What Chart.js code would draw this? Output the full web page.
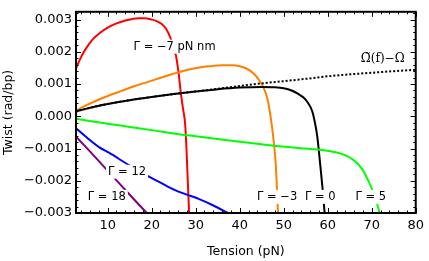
<!DOCTYPE html>
<html>
<head>
<meta charset="utf-8">
<script src="https://cdn.jsdelivr.net/npm/chart.js@4/dist/chart.umd.min.js"></script>
<style>
  body { margin: 0; background: #fff; }
  canvas { display: block; }
</style>
</head>
<body>
<canvas id="twist-chart" width="429" height="261"></canvas>
<script>
// tick values / labels
const xTicks = [10, 20, 30, 40, 50, 60, 70, 80];
const xTickLabels = ['10', '20', '30', '40', '50', '60', '70', '80'];
const yTicks = [-0.003, -0.002, -0.001, 0, 0.001, 0.002, 0.003];
const yTickLabels = ['\u22120.003', '\u22120.002', '\u22120.001', '0.000', '0.001', '0.002', '0.003'];

// Γ = -7 pN nm
const redTension = [2.8, 4, 5.2, 6.5, 8.2, 10, 12, 14, 15.7, 17, 18.4, 20, 21, 22.2, 23.2, 24.4, 25.1, 25.5, 26.1, 26.6, 27.1, 27.6, 27.9, 28.2, 28.5];
const redTwist = [0.00149, 0.00185, 0.00213, 0.00237, 0.00258, 0.00275, 0.00288, 0.00297, 0.00302, 0.00304, 0.00304, 0.003, 0.00296, 0.00287, 0.00273, 0.00238, 0.00204, 0.00189, 0.00135, 0.00075, 0.00025, -0.00024, -0.001, -0.002, -0.003];

// Γ = -3
const orangeTension = [2.8, 5, 7.5, 10, 13, 16, 19, 21.7, 24, 26.3, 28.5, 30.8, 33, 36, 38.4, 40, 41.4, 42.5, 43.5, 44.5, 45.3, 46, 46.5, 47, 47.5, 48.2, 48.7];
const orangeTwist = [0.00018, 0.00033, 0.00049, 0.00063, 0.00078, 0.00093, 0.00106, 0.00118, 0.00128, 0.00137, 0.00145, 0.00151, 0.00155, 0.00158, 0.00158, 0.00155, 0.00149, 0.0014, 0.00128, 0.0011, 0.00092, 0.00068, 0.00042, 0.0, -0.0005, -0.0015, -0.003];

// Γ = 0
const blackTension = [2.8, 5, 7.5, 10, 15, 20, 25, 30, 35, 40, 45, 48, 50, 51.8, 53.2, 54.5, 55.5, 56.5, 57.1, 57.6, 58.3, 58.8, 59.3];
const blackTwist = [0.00015, 0.00023, 0.00031, 0.00038, 0.0005, 0.0006, 0.00069, 0.00077, 0.00084, 0.00089, 0.00091, 0.0009, 0.00087, 0.0008, 0.0007, 0.00058, 0.00042, 0.00015, -0.0002, -0.0006, -0.0015, -0.0022, -0.003];

// Ω~(f) - Ω
const omegaTension = [2.8, 5, 10, 15, 20, 25, 30, 35, 40, 45, 50, 55, 60, 65, 70, 75, 80];
const omegaTwist = [0.00015, 0.00023, 0.00038, 0.0005, 0.0006, 0.00069, 0.00077, 0.00085, 0.00094, 0.00102, 0.00109, 0.00116, 0.00124, 0.0013, 0.00135, 0.0014, 0.00144];

// Γ = 5
const greenTension = [2.8, 10, 15, 20, 25.3, 30, 34, 40, 45, 49, 55, 60.3, 63, 65.6, 67.8, 69.3, 70.8, 71.8];
const greenTwist = [-0.00008, -0.00023, -0.00033, -0.00043, -0.00054, -0.00062, -0.00069, -0.00079, -0.00087, -0.00093, -0.001, -0.00108, -0.00116, -0.00133, -0.00163, -0.00202, -0.00252, -0.003];

// Γ = 12
const blueTension = [2.8, 5, 8.2, 10.3, 14.4, 18.6, 22, 25.3, 28, 30.8, 33.9, 37.3];
const blueTwist = [-0.00037, -0.00063, -0.00097, -0.00113, -0.00148, -0.00182, -0.00206, -0.00229, -0.00243, -0.00257, -0.00276, -0.003];

// Γ = 18
const purpleTension = [2.8, 5, 8, 11, 13.3, 16, 18.9];
const purpleTwist = [-0.00063, -0.00095, -0.00139, -0.00184, -0.00218, -0.00258, -0.003];

const curveLabels = [
    { text: '\u0393 = \u22127 pN nm', x: 25.2, y: 0.00216 },
    { text: '\u03A9\u0303(f)\u2212\u03A9', x: 72.5, y: 0.00178, serif: true },
    { text: '\u0393 = 12', x: 14.4, y: -0.00172 },
    { text: '\u0393 = 18', x: 9.8, y: -0.0025 },
    { text: '\u0393 = \u22123', x: 48.5, y: -0.0025 },
    { text: '\u0393 = 0', x: 58.3, y: -0.0025 },
    { text: '\u0393 = 5', x: 69.8, y: -0.0025 }
];

const FONT = 'DejaVu Sans';

function toPoints(xs, ys) {
    return xs.map((x, i) => ({ x: x, y: ys[i] }));
}

function series(xs, ys, color, dash) {
    return {
        data: toPoints(xs, ys),
        borderColor: color,
        borderWidth: 2,
        borderDash: dash || [],
        pointRadius: 0,
        fill: false,
        cubicInterpolationMode: 'monotone'
    };
}

// white boxed labels on top of the curves
const labelPlugin = {
    id: 'curveLabels',
    afterDatasetsDraw(chart) {
        const ctx = chart.ctx;
        const xs = chart.scales.x, ys = chart.scales.y;
        ctx.save();
        ctx.textAlign = 'center';
        ctx.textBaseline = 'middle';
        curveLabels.forEach(l => {
            ctx.font = l.serif ? '12px "DejaVu Serif"' : '11.5px "' + FONT + '"';
            const px = xs.getPixelForValue(l.x);
            const py = ys.getPixelForValue(l.y);
            const w = ctx.measureText(l.text).width;
            ctx.fillStyle = '#fff';
            ctx.fillRect(px - w / 2 - 2, py - 7, w + 4, 14);
            ctx.fillStyle = '#000';
            ctx.fillText(l.text, px, py);
        });
        ctx.restore();
    }
};

// mathematica style frame with inward ticks on all four sides
const framePlugin = {
    id: 'frame',
    afterDraw(chart) {
        const ctx = chart.ctx;
        const a = chart.chartArea;
        const xs = chart.scales.x, ys = chart.scales.y;
        ctx.save();
        ctx.strokeStyle = '#000';
        ctx.lineWidth = 1;
        ctx.beginPath();
        for (let v = 4; v <= 80.001; v += 2) {
            const major = Math.abs(v % 10) < 0.001;
            const len = major ? 5 : 2.5;
            const px = Math.round(xs.getPixelForValue(v)) + 0.5;
            ctx.moveTo(px, a.bottom); ctx.lineTo(px, a.bottom - len);
            ctx.moveTo(px, a.top); ctx.lineTo(px, a.top + len);
        }
        for (let k = -15; k <= 16; k++) {
            const v = k * 0.0002;
            const major = k % 5 === 0;
            const len = major ? 5 : 2.5;
            const py = Math.round(ys.getPixelForValue(v)) + 0.5;
            ctx.moveTo(a.left, py); ctx.lineTo(a.left + len, py);
            ctx.moveTo(a.right, py); ctx.lineTo(a.right - len, py);
        }
        ctx.stroke();
        ctx.lineWidth = 2;
        ctx.strokeRect(a.left, a.top, a.right - a.left, a.bottom - a.top);
        ctx.restore();
    }
};

const chart = new Chart(document.getElementById('twist-chart'), {
    type: 'line',
    data: {
        datasets: [
            series(omegaTension, omegaTwist, '#000000', [2, 2]),
            series(purpleTension, purpleTwist, '#800080'),
            series(blueTension, blueTwist, '#0000ff'),
            series(greenTension, greenTwist, '#00ff00'),
            series(blackTension, blackTwist, '#000000'),
            series(orangeTension, orangeTwist, '#ff8000'),
            series(redTension, redTwist, '#ff0000')
        ]
    },
    options: {
        responsive: false,
        animation: false,
        layout: { padding: { top: 3, right: 9, left: 0, bottom: 0 } },
        plugins: {
            legend: { display: false },
            tooltip: { enabled: false }
        },
        scales: {
            x: {
                type: 'linear',
                min: 2.8,
                max: 80,
                grid: { display: false, drawTicks: false },
                border: { display: false },
                afterBuildTicks: s => { s.ticks = xTicks.map(v => ({ value: v })); },
                afterFit: s => { s.height = 48; },
                ticks: {
                    callback: (v, i) => xTickLabels[i],
                    autoSkip: false,
                    maxRotation: 0,
                    padding: 5,
                    color: '#000',
                    font: { family: FONT, size: 13 }
                },
                title: {
                    display: true,
                    text: 'Tension (pN)',
                    color: '#000',
                    font: { family: FONT, size: 12.5 },
                    padding: { top: 0, bottom: 2 }
                }
            },
            y: {
                min: -0.003,
                max: 0.00324,
                grid: { display: false, drawTicks: false },
                border: { display: false },
                afterBuildTicks: s => { s.ticks = yTicks.map(v => ({ value: v })); },
                afterFit: s => { s.width = 76; },
                ticks: {
                    callback: (v, i) => yTickLabels[i],
                    autoSkip: false,
                    padding: 4,
                    color: '#000',
                    font: { family: FONT, size: 13 }
                },
                title: {
                    display: true,
                    text: 'Twist (rad/bp)',
                    color: '#000',
                    font: { family: FONT, size: 12.5 },
                    padding: { top: 1, bottom: 0 }
                }
            }
        }
    },
    plugins: [labelPlugin, framePlugin]
});
</script>
</body>
</html>
